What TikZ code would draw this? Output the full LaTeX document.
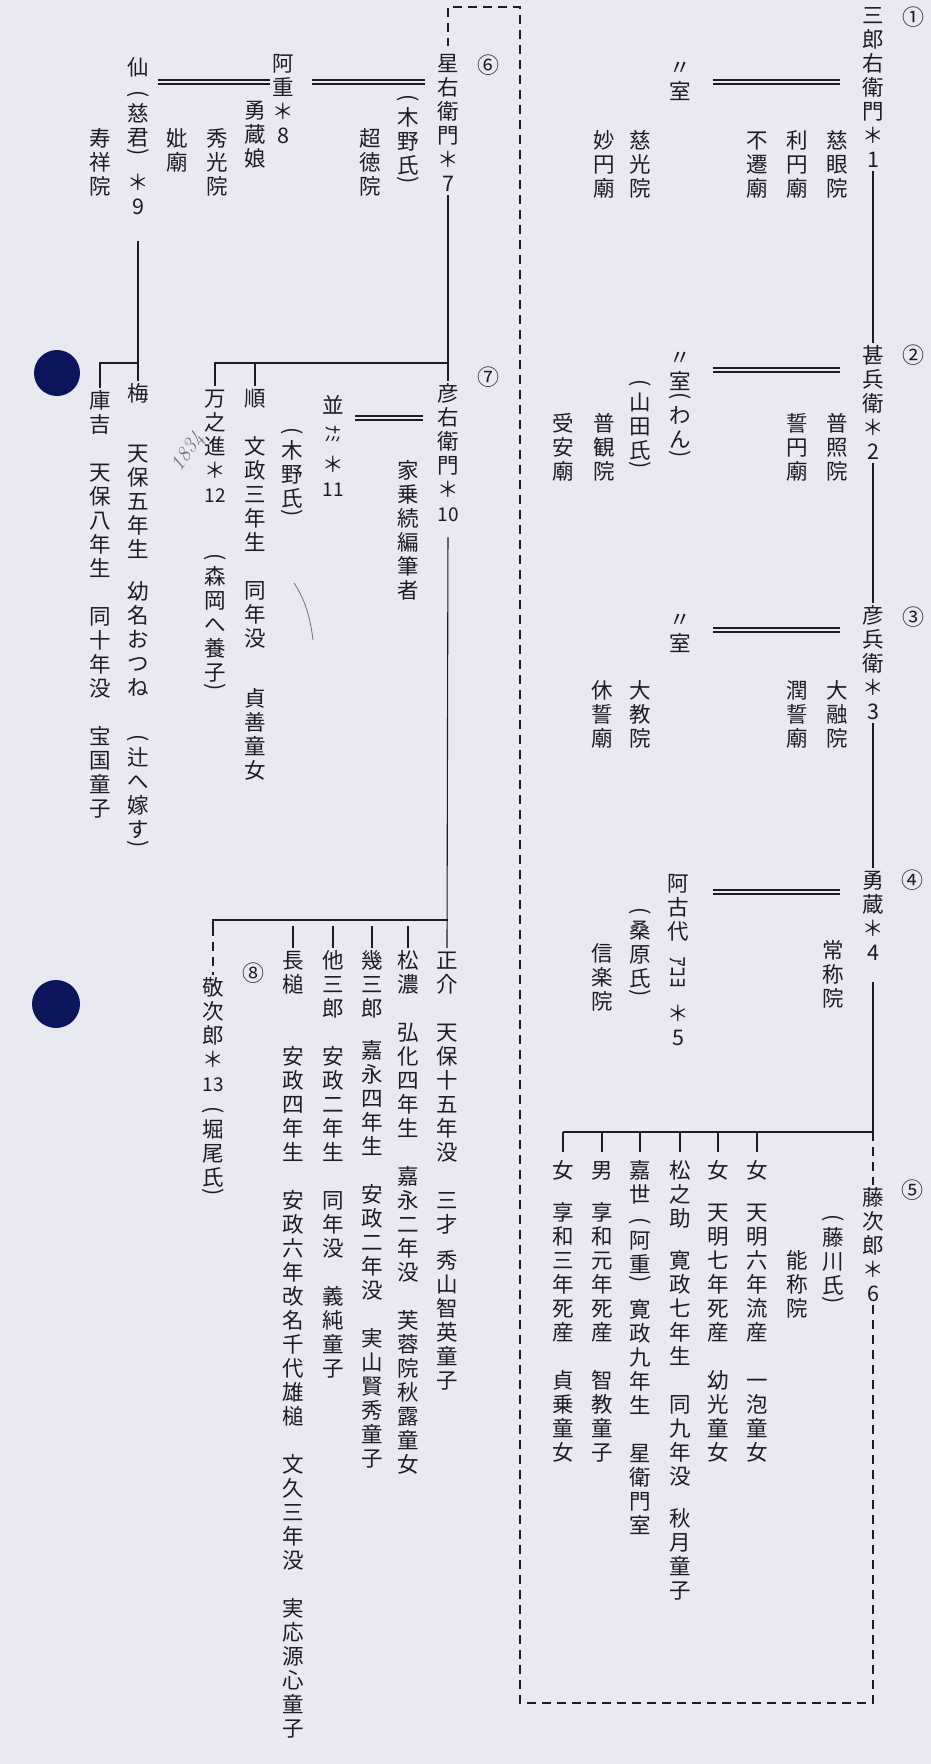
\documentclass[tikz,border=0pt]{standalone}
\usepackage{fontspec}
\usepackage{graphicx}
\newfontfamily\jp{Noto Sans CJK JP}
\definecolor{bg}{RGB}{233,233,241}
\definecolor{ink}{RGB}{28,28,34}
\definecolor{navy}{RGB}{12,20,92}
\definecolor{pencil}{RGB}{110,110,125}
\newlength\tp \setlength\tp{24pt}
\newlength\tw \setlength\tw{24pt}
\let\tend\relax
\def\tendmark{\tend}
\def\fullsp{/}
\def\halfsp{|}
\def\tqsp{:}
\def\lpm{(}
\def\rpm{)}
\def\firsttok#1#2\nil{#1}
\def\raw#1{#1}
\def\tcy#1{{\fontsize{19}{19}\selectfont#1}}
\newcommand\tate[1]{\vbox{\offinterlineskip\tateloop#1\tend}}
\def\tateloop#1{\def\tmparg{#1}\ifx\tmparg\tendmark\else\tatecell{#1}\expandafter\tateloop\fi}
\def\normcell#1{\hbox to\tw{\hss\raisebox{0pt}[20.2pt][3.8pt]{#1}\hss}}
\def\parcell#1{\vbox to .4\tp{\vss\hbox to\tw{\hss\rotatebox[origin=c]{-90}{#1}\hss}\vss}}
\def\rkana#1#2{\vbox to #1{\vss\hbox to\tw{\hss\rotatebox[origin=c]{-90}{#2}\hss}\vss}}
\def\tatecell#1{\def\tmparg{#1}%
 \ifx\tmparg\fullsp\vskip\tp\else
 \ifx\tmparg\halfsp\vskip.5\tp\else
 \ifx\tmparg\tqsp\vskip.75\tp\else
 \ifx\tmparg\lpm\parcell{(}\else
 \ifx\tmparg\rpm\parcell{)}\else
 \expandafter\ifx\firsttok#1\nil\raw #1\else
 \normcell{#1}\fi\fi\fi\fi\fi\fi}
\begin{document}
\begin{tikzpicture}[x=1pt,y=-1pt,
  txt/.style={anchor=north,inner sep=0pt,text=ink,font=\jp\fontsize{21.5}{24}\selectfont},
  circ/.style={inner sep=0pt,text=ink,font=\jp\fontsize{22}{22}\selectfont},
  ln/.style={draw=ink,line width=1.1pt},
  dbl/.style={draw=ink,line width=1.8pt,double=bg,double distance=2pt},
  dsh/.style={draw=ink,line width=2.2pt,dash pattern=on 9pt off 6pt}]
\useasboundingbox (0,0) rectangle (931,1764);
\fill[bg] (0,0) rectangle (931,1764);
% ---------------- right group: generations 1-5
\node[txt] (n1) at (873,3) {\tate{三郎右衛門＊1}};
\node[txt] (n2) at (873,343) {\tate{甚兵衛＊2}};
\node[txt] (n3) at (873,603) {\tate{彦兵衛＊3}};
\node[txt] (n4) at (873,868) {\tate{勇蔵＊4}};
\node[txt] (n5) at (873,1185) {\tate{藤次郎＊6}};
\node[circ] (c1) at (913,17) {①};
\node[circ] (c2) at (913,355) {②};
\node[circ] (c3) at (913,617) {③};
\node[circ] (c4) at (912,880) {④};
\node[circ] (c5) at (912,1190) {⑤};
\node[txt] (s1) at (680,55) {\tate{〃室}};
\node[txt] (s2) at (680,345) {\tate{〃室(わん)}};
\node[txt] (s3) at (680,607) {\tate{〃室}};
\node[txt] (s4) at (678,871) {\tate{阿古代{\raw{\rkana{58pt}{ｱｺﾖ}}}＊5}};
\node[txt] (m1) at (837,128) {\tate{慈眼院}};
\node[txt] (m2) at (797,128) {\tate{利円廟}};
\node[txt] (m3) at (757,128) {\tate{不遷廟}};
\node[txt] (m4) at (640,128) {\tate{慈光院}};
\node[txt] (m5) at (604,128) {\tate{妙円廟}};
\node[txt] (m6) at (837,411) {\tate{普照院}};
\node[txt] (m7) at (797,411) {\tate{誓円廟}};
\node[txt] (m8) at (640,380) {\tate{(山田氏)}};
\node[txt] (m9) at (604,411) {\tate{普観院}};
\node[txt] (m10) at (563,411) {\tate{受安廟}};
\node[txt] (m11) at (837,678) {\tate{大融院}};
\node[txt] (m12) at (797,678) {\tate{潤誓廟}};
\node[txt] (m13) at (640,678) {\tate{大教院}};
\node[txt] (m14) at (602,678) {\tate{休誓廟}};
\node[txt] (m15) at (833,938) {\tate{常称院}};
\node[txt] (m16) at (640,908) {\tate{(桑原氏)}};
\node[txt] (m17) at (602,941) {\tate{信楽院}};
\node[txt] (m18) at (833,1215) {\tate{(藤川氏)}};
\node[txt] (m19) at (797,1248) {\tate{能称院}};
\node[txt] (k1) at (757,1158) {\tate{女:天明六年流産/一泡童女}};
\node[txt] (k2) at (718,1158) {\tate{女:天明七年死産/幼光童女}};
\node[txt] (k3) at (680,1158) {\tate{松之助:寛政七年生/同九年没:秋月童子}};
\node[txt] (k4) at (640,1158) {\tate{嘉世|(阿重)|寛政九年生/星衛門室}};
\node[txt] (k5) at (602,1158) {\tate{男:享和元年死産/智教童子}};
\node[txt] (k6) at (563,1158) {\tate{女:享和三年死産/貞乗童女}};
% ---------------- left group: generations 6-8
\node[txt] (g6) at (448,51) {\tate{星右衛門＊7}};
\node[circ] (c6) at (488,65) {⑥};
\node[txt] (g6a) at (283,51) {\tate{阿重＊8}};
\node[txt] (g6b) at (408,95) {\tate{(木野氏)}};
\node[txt] (g6c) at (370,126) {\tate{超徳院}};
\node[txt] (g6d) at (255,98) {\tate{勇蔵娘}};
\node[txt] (g6e) at (217,126) {\tate{秀光院}};
\node[txt] (g6f) at (177,126) {\tate{妣廟}};
\node[txt] (g6s) at (138,55) {\tate{仙|(慈君)|＊9}};
\node[txt] (g6g) at (100,126) {\tate{寿祥院}};
\node[txt] (g7) at (448,381) {\tate{彦右衛門＊{\tcy{10}}}};
\node[circ] (c7) at (488,377) {⑦};
\node[txt] (g7s) at (333,393) {\tate{並{\raw{\rkana{35pt}{\fontsize{18}{18}\selectfont ﾅﾐ}}}＊{\tcy{11}}}};
\node[txt] (g7a) at (408,458) {\tate{家乗続編筆者}};
\node[txt] (g7b) at (292,428) {\tate{(木野氏)}};
\node[txt] (j1) at (255,386) {\tate{順/文政三年生/同年没/|貞善童女}};
\node[txt] (j2) at (215,386) {\tate{万之進＊{\tcy{12}}//(森岡へ養子)}};
\node[txt] (j3) at (138,381) {\tate{梅/|天保五年生:幼名おつね/|(辻へ嫁す)}};
\node[txt] (j4) at (100,388) {\tate{庫吉/天保八年生/同十年没/宝国童子}};
\node[txt] (h1) at (447,948) {\tate{正介/天保十五年没/三才|秀山智英童子}};
\node[txt] (h2) at (408,948) {\tate{松濃/弘化四年生/嘉永二年没/芙蓉院秋露童女}};
\node[txt] (h3) at (372,948) {\tate{幾三郎:嘉永四年生/安政二年没/実山賢秀童子}};
\node[txt] (h4) at (333,948) {\tate{他三郎/安政二年生/同年没/義純童子}};
\node[txt] (h5) at (293,948) {\tate{長槌//安政四年生/安政六年改名千代雄槌/文久三年没/実応源心童子}};
\node[txt] (g8) at (213,975) {\tate{敬次郎＊{\tcy{13}}|(堀尾氏)}};
\node[circ] (c8) at (253,973) {⑧};
% ---------------- coordinates
\coordinate (d1) at (0,82);
\coordinate (d2) at (0,370);
\coordinate (d3) at (0,630);
\coordinate (d4) at (0,892);
\coordinate (d6) at (0,82);
\coordinate (d7) at (0,418);
\coordinate (b4) at (873,1132);
\coordinate (b6) at (448,363);
\coordinate (b9) at (138,363);
\coordinate (b7) at (448,920);
\coordinate (cBR) at (873,1703);
\coordinate (cBL) at (520,1703);
\coordinate (cTR) at (520,7);
\coordinate (cTL) at (448,7);
% ---------------- main line
\draw[ln] (n1.south) -- (n2.north);
\draw[ln] (n2.south) -- (n3.north);
\draw[ln] (n3.south) -- (n4.north);
\draw[ln,shorten <=18pt] (n4.south) -- (b4) -- (k6.north |- b4);
\foreach \k in {k1,k2,k3,k4,k5,k6} \draw[ln,shorten >=6pt] (\k.north |- b4) -- (\k.north);
\draw[dsh] (b4) -- (n5.north);
\draw[dsh] (n5.south) -- (cBR) -- (cBL) -- (cTR) -- (cTL) -- ([yshift=5pt]g6.north);
% marriages
\draw[dbl,shorten <=21pt,shorten >=21pt] (s1.east |- d1) -- (n1.west |- d1);
\draw[dbl,shorten <=21pt,shorten >=21pt] (s2.east |- d2) -- (n2.west |- d2);
\draw[dbl,shorten <=21pt,shorten >=21pt] (s3.east |- d3) -- (n3.west |- d3);
\draw[dbl,shorten <=23pt,shorten >=21pt] (s4.east |- d4) -- (n4.west |- d4);
\draw[dbl,shorten <=17pt,shorten >=11pt] (g6a.east |- d6) -- (g6.west |- d6);
\draw[dbl,shorten <=8pt,shorten >=1pt] (g6s.east |- d6) -- (g6a.west |- d6);
\draw[dbl,shorten <=10pt,shorten >=13pt] (g7s.east |- d7) -- (g7.west |- d7);
% generation 6 children
\draw[ln] (g6.south) -- (g7.north);
\draw[ln] (b6) -- (j2.north |- b6) -- (j2.north);
\draw[ln] (j1.north |- b6) -- (j1.north);
\draw[ln,shorten <=22pt] (g6s.south) -- (j3.north);
\draw[ln] (b9) -- (j4.north |- b9) -- (j4.north);
% generation 7 children
\draw[ln,shorten <=12pt] (g7.south) -- (h1.north);
\draw[ln] (b7) -- (g8.north |- b7) -- ([yshift=-16pt]g8.north |- b7);
\draw[dsh] ([yshift=-22pt]g8.north |- b7) -- (g8.north);
\foreach \h in {h2,h3,h4,h5} \draw[ln,shorten <=6pt] (\h.north |- b7) -- (\h.north);
% ---------------- marks on the sheet
\fill[navy] (57,373) circle[radius=23pt];
\fill[navy] (56,1004) circle[radius=24pt];
\node[rotate=55,text=pencil,inner sep=0pt,font=\itshape\fontsize{21}{21}\selectfont] (note) at (188,452) {1834};
\draw[pencil,line width=0.8pt] (294,583) .. controls (304,598) and (310,615) .. (313,640);
\end{tikzpicture}
\end{document}
